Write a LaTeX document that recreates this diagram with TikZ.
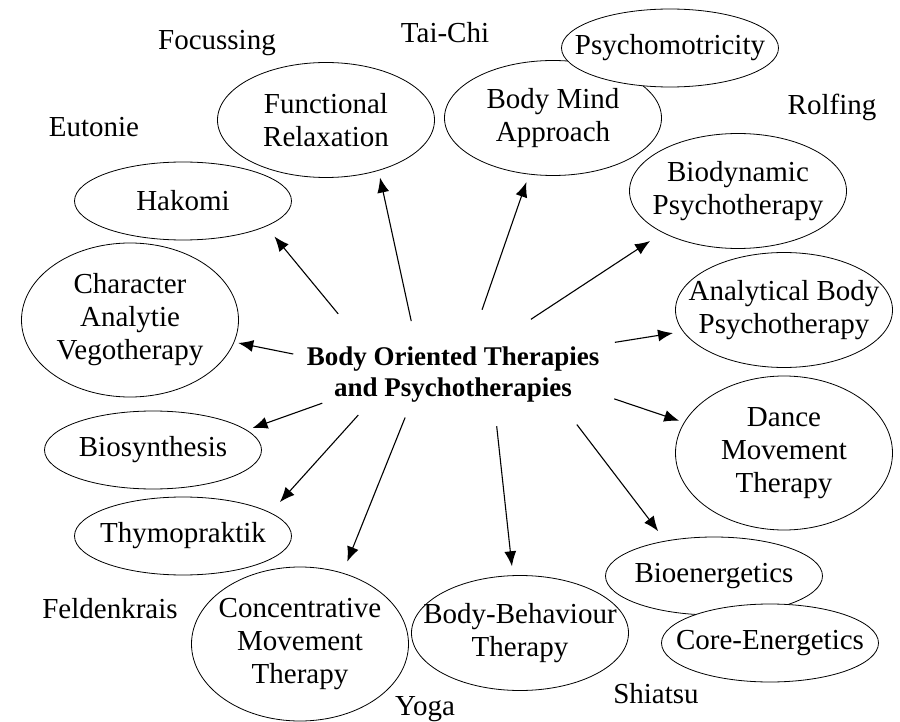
\documentclass[tikz,border=0pt]{standalone}
\usepackage{fontspec}
\setmainfont{Liberation Serif}
\usetikzlibrary{shapes.geometric,arrows.meta}

\tikzset{
  therapy/.style={draw, ellipse, line width=0.8pt, fill=white, minimum width=217pt,
    inner xsep=-25pt, inner ysep=-12pt, align=center, font=\fontsize{29}{33}\selectfont},
  oneline/.style={therapy, minimum height=78pt},
  twoline/.style={therapy, minimum height=115pt},
  threeline/.style={therapy, minimum height=154pt},
  extra/.style={anchor=base, font=\fontsize{29}{33}\selectfont},
  branch/.style={-{Latex[length=15pt,width=12pt]}, line width=1.1pt},
}

\begin{document}
\begin{tikzpicture}[x=1pt, y=-1pt]
        \useasboundingbox (0,0) rectangle (900,722);

        % 中心
        \node[ellipse, minimum width=330pt, minimum height=110pt, inner sep=0pt] (hub) at (453,368) {};
        \node[align=center, font=\bfseries\fontsize{27}{31}\selectfont] (title) at (453,375)
            {Body Oriented Therapies\\and Psychotherapies};

        % 椭圆
        \node[twoline] (fr) at (326,120) {Functional\\Relaxation};
        \node[twoline] (bma) at (553,118) {Body Mind\\Approach};
        \node[oneline] (psy) at (670,48) {Psychomotricity};
        \node[twoline] (bdp) at (738,191) {Biodynamic\\Psychotherapy};
        \node[twoline] (abp) at (784,310) {Analytical Body\\Psychotherapy};
        \node[threeline] (dmt) at (784,453) {Dance\\Movement\\Therapy};
        \node[oneline] (bio) at (714,576) {Bioenergetics};
        \node[oneline] (core) at (770,643) {Core-Energetics};
        \node[twoline] (bbt) at (520,633) {Body-Behaviour\\Therapy};
        \node[threeline] (cmt) at (300,644) {Concentrative\\Movement\\Therapy};
        \node[oneline] (thy) at (183,536) {Thymopraktik};
        \node[oneline] (bsy) at (153,450) {Biosynthesis};
        \node[threeline] (cav) at (130,320) {Character\\Analytie\\Vegotherapy};
        \node[oneline] (hak) at (183,201) {Hakomi};

        % 其他名称
        \node[extra] (foc) at (217,50) {Focussing};
        \node[extra] (tai) at (445,43) {Tai-Chi};
        \node[extra] (rol) at (832,115) {Rolfing};
        \node[extra] (eut) at (94,137) {Eutonie};
        \node[extra] (fel) at (110,618) {Feldenkrais};
        \node[extra] (yog) at (425,715) {Yoga};
        \node[extra] (shi) at (656,703) {Shiatsu};

        % 箭头
        \draw[branch, shorten <=-6.5pt, shorten >=7pt] (hub.129.8) -- (fr.-44.5);
        \draw[branch, shorten <=4pt, shorten >=8pt] (hub.63.4) -- (bma.-113.6);
        \draw[branch, shorten <=0pt, shorten >=15pt] (hub.32.6) -- (bdp.-151.9);
        \draw[branch, shorten <=12.7pt, shorten >=10pt] (hub.9.2) -- (abp.-168.3);
        \draw[branch, shorten <=16pt, shorten >=5pt] (hub.-10.2) -- (dmt.163.7);
        \draw[branch, shorten <=20pt, shorten >=12pt] (hub.-20.4) -- (bio.144.1);
        \draw[branch, shorten <=5pt, shorten >=9pt] (hub.-51.1) -- (bbt.97.8);
        \draw[branch, shorten <=-3.4pt, shorten >=12pt] (hub.-133.2) -- (cmt.59.9);
        \draw[branch, shorten <=2pt, shorten >=14pt] (hub.-154.4) -- (thy.15.8);
        \draw[branch, shorten <=2pt, shorten >=6pt] (hub.-165.7) -- (bsy.12.8);
        \draw[branch, shorten <=0pt, shorten >=4pt] (hub.175.4) -- (cav.-12.6);
        \draw[branch, shorten <=15pt, shorten >=13pt] (hub.158.0) -- (hak.-17.9);
    \end{tikzpicture}
\end{document}
